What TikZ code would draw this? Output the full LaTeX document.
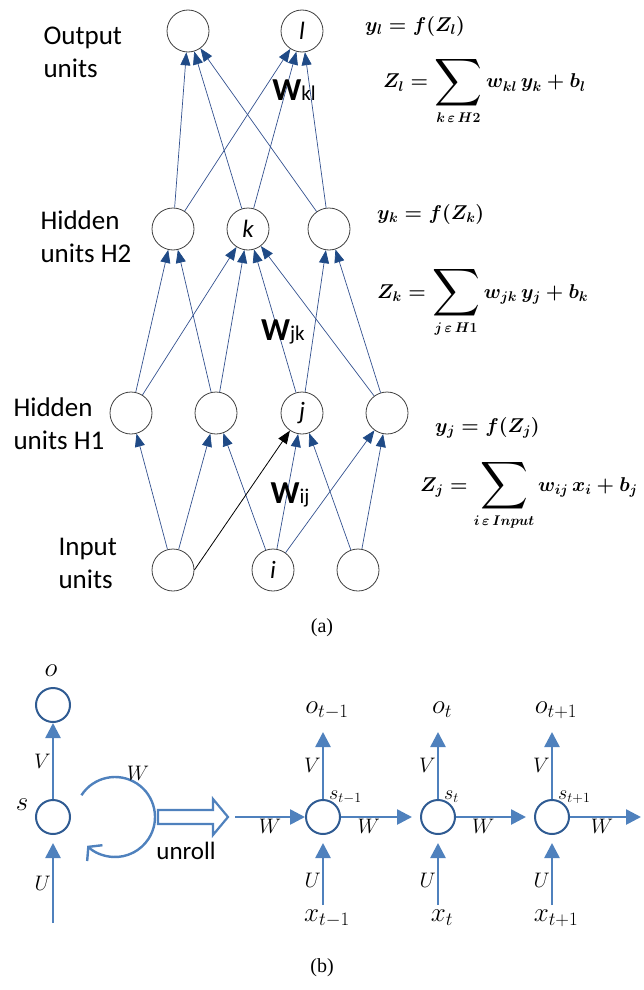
\RequirePackage{fix-cm}
\documentclass[tikz,border=0pt]{standalone}
\usepackage{amsmath, amssymb}
\usepackage{exscale}
\usepackage{fontspec}
\newfontfamily\calibri{Carlito}
\newfontfamily\timesfont{Liberation Serif}
\usetikzlibrary{arrows.meta, positioning}
\definecolor{netBlue}{HTML}{33518F}
\definecolor{tipBlue}{HTML}{1F4A86}
\definecolor{rnnBlue}{HTML}{4F81BD}
\definecolor{rnnDark}{HTML}{2F5B92}
\newcommand{\weightW}[1]{{\fontsize{32}{32}\selectfont\bfseries W}#1}
\newcommand{\bigSum}{\mathop{\vcenter{\hbox{\scalebox{1.6}{$\displaystyle\sum$}}}}\limits}
\tikzset{
    unitNode/.style={
        circle,
        draw=black!75,
        fill=white,
        line width=0.8pt,
        inner sep=0pt,
        minimum size=42pt,
        font=\calibri\itshape\fontsize{25}{25}\selectfont
    },
    netLink/.style={
        draw=netBlue,
        line width=0.7pt,
        -{Triangle[length=13pt, width=10pt, color=tipBlue]}
    },
    layerText/.style={anchor=west, align=left, font=\calibri\fontsize{27}{33}\selectfont},
    weightText/.style={font=\calibri\fontsize{21}{21}\selectfont},
    eqText/.style={anchor=base west, inner sep=0pt, font=\fontsize{20}{24}\selectfont\boldmath},
    capText/.style={font=\timesfont\fontsize{20}{20}\selectfont},
    rnnNode/.style={
        circle,
        draw=rnnDark,
        line width=2pt,
        inner sep=0pt,
        minimum size=34pt
    },
    rnnLink/.style={
        draw=rnnBlue,
        line width=2.6pt,
        -{Triangle[length=15pt, width=15pt]}
    },
    rnnLabel/.style={font=\fontsize{21}{21}\selectfont, inner sep=1pt},
    rnnBig/.style={font=\fontsize{27}{27}\selectfont},
    rnnSmall/.style={font=\fontsize{20}{20}\selectfont, inner sep=0pt}
}

\begin{document}
\begin{tikzpicture}[x=1pt, y=-1pt]
            \useasboundingbox (0,0) rectangle (643,990);

            % (a) Units
            \node[unitNode] (OutA) at (188,31) {};
            \node[unitNode] (OutL) at (302,31) {l};
            \node[unitNode] (HidKa) at (173,229) {};
            \node[unitNode] (HidK) at (248,229) {k};
            \node[unitNode] (HidKc) at (329,229) {};
            \node[unitNode] (HidJa) at (131,413) {};
            \node[unitNode] (HidJb) at (216,413) {};
            \node[unitNode] (HidJ) at (302,413) {j};
            \node[unitNode] (HidJd) at (387,413) {};
            \node[unitNode] (InIa) at (173,570) {};
            \node[unitNode] (InI) at (273,570) {i};
            \node[unitNode] (InIc) at (358,570) {};

            % Layer names
            \node[layerText] at (40,52) {Output\\units};
            \node[layerText] at (37,237) {Hidden\\units H2};
            \node[layerText] at (10,424) {Hidden\\units H1};
            \node[layerText, align=left] at (55,563) {Input\\units};

            % Weights
            \foreach \src in {HidKa, HidK, HidKc}
                \foreach \dst in {OutA, OutL}
                    \draw[netLink] (\src) -- (\dst);
            \foreach \src/\dst in {HidJa/HidKa, HidJb/HidKa, HidJa/HidK, HidJb/HidK,
                                   HidJ/HidK, HidJd/HidK, HidJ/HidKc, HidJd/HidKc}
                \draw[netLink] (\src) -- (\dst);
            \foreach \src/\dst in {InIa/HidJa, InIa/HidJb, InI/HidJb, InI/HidJ,
                                   InI/HidJd, InIc/HidJ, InIc/HidJd}
                \draw[netLink] (\src) -- (\dst);
            \draw[black, line width=0.8pt, -{Triangle[length=13pt, width=10pt]}] (InIa.east) -- (HidJ);

            \node[weightText] at (294,90) {\weightW{kl}};
            \node[weightText] at (283,332) {\weightW{jk}};
            \node[weightText] at (290,495) {\weightW{ij}};

            % Equations
            \node[eqText] at (365,32) {$y_l = f(Z_l)$};
            \node[eqText] at (383,88) {$\displaystyle Z_l = \bigSum_{k\,\varepsilon\,H2} w_{kl}\,y_k + b_l$};
            \node[eqText] at (377,219) {$y_k = f(Z_k)$};
            \node[eqText] at (377,298) {$\displaystyle Z_k = \bigSum_{j\,\varepsilon\,H1} w_{jk}\,y_j + b_k$};
            \node[eqText] at (435,432) {$y_j = f(Z_j)$};
            \node[eqText] at (420,491) {$\displaystyle Z_j = \bigSum_{i\,\varepsilon\,Input} w_{ij}\,x_i + b_j$};

            \node[capText] at (322,628) {(a)};

            % (b) Folded network
            \node[rnnNode] (OutO) at (53,705) {};
            \node[rnnNode] (StS) at (53,817) {};
            \coordinate (InU) at (53,923);
            \coordinate (LoopC) at (115,817);
            \node[rnnBig] at (51,671) {$o$};
            \node[rnnBig] at (22,805) {$s$};
            \draw[rnnLink] (StS) -- (OutO) node[midway, left, rnnLabel] {$V$};
            \draw[rnnLink, shorten >=8pt] (InU) -- (StS) node[pos=0.45, left, rnnLabel] {$U$};
            \draw[draw=rnnBlue, line width=2.4pt, -{Straight Barb[length=9pt, width=22pt]}]
                ([shift={(213:40)}]LoopC) arc[start angle=213, end angle=494, radius=40];
            \node[rnnLabel] at (138,773) {$W$};

            % Unroll arrow
            \draw[rnnBlue, line width=2.2pt, line join=miter]
                (158,810) -- (213,810) -- (213,799) -- (228,817) -- (213,835) -- (213,824) -- (158,824) -- cycle;
            \node[font=\calibri\fontsize{25}{25}\selectfont] at (186,851) {unroll};

            % (b) Unrolled network
            \coordinate (WIn) at (235,817);
            \coordinate (WOut) at (641,817);
            \foreach \n/\px/\sub in {1/323/{t-1}, 2/438/t, 3/552/{t+1}} {
                \node[rnnNode] (St\n) at (\px,817) {};
                \coordinate (OutT\n) at (\px,732);
                \coordinate (InX\n) at (\px,905);
                \node[rnnBig] at (\px+4,710) {$o_{\sub}$};
                \node[rnnBig] at (\px+4,918) {$x_{\sub}$};
                \node[rnnSmall, anchor=west] at (\px+6,797) {$s_{\sub}$};
                \draw[rnnLink] (St\n) -- (OutT\n) node[midway, left, rnnLabel] {$V$};
                \draw[rnnLink, shorten >=8pt] (InX\n) -- (St\n) node[pos=0.35, left, rnnLabel] {$U$};
            }
            \draw[rnnLink] (WIn) -- (St1) node[midway, below, rnnLabel] {$W$};
            \draw[rnnLink, shorten >=8pt] (St1) -- (St2) node[pos=0.35, below, rnnLabel] {$W$};
            \draw[rnnLink, shorten >=8pt] (St2) -- (St3) node[pos=0.35, below, rnnLabel] {$W$};
            \draw[rnnLink] (St3) -- (WOut) node[pos=0.45, below, rnnLabel] {$W$};

            \node[capText] at (322,968) {(b)};
        \end{tikzpicture}
\end{document}
